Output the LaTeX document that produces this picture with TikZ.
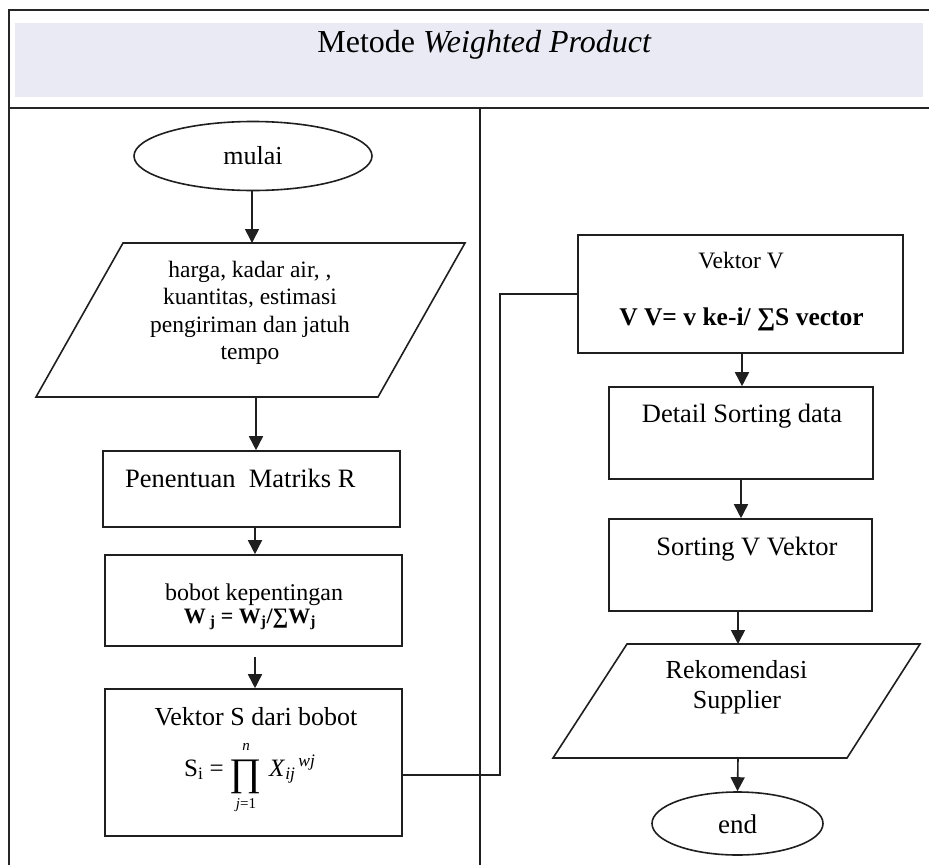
\documentclass[tikz,border=0pt]{standalone}
\usepackage{fontspec}
\setmainfont{Liberation Serif}
\usetikzlibrary{shapes.geometric,arrows.meta}

\newcommand{\fs}[1]{\fontsize{#1}{1.15\dimexpr #1pt\relax}\selectfont}

\begin{document}
\begin{tikzpicture}[x=1pt,y=-1pt,
  ink/.style={draw=black!88,line width=1.6pt},
  frameline/.style={draw=black!85,line width=2.4pt},
  stepbox/.style={ink,rectangle,inner sep=0pt},
  terminal/.style={ink,ellipse,inner sep=0pt},
  txt/.style={inner sep=0pt,anchor=base,text=black},
  arr/.style={draw=black!88,line width=1.6pt,-{Triangle[length=14pt,width=14pt]}},
  conn/.style={draw=black!88,line width=1.6pt}
]
\useasboundingbox (0,0) rectangle (929,865);
\fill[white] (0,0) rectangle (929,865);

% swimlane frame and title band
\fill[fill={rgb,255:red,234;green,234;blue,245}] (15,23) rectangle (923,97);
\draw[frameline] (9,865) -- (9,10) -- (929,10);
\draw[frameline] (9,108) -- (929,108);
\draw[ink] (480,108) -- (480,865);
\node[txt] (title) at (484.5,52) {\fs{32}Metode \textit{Weighted Product}};

% ---------------- left lane ----------------
\node[terminal,minimum width=238pt,minimum height=69pt] (mulai) at (253,156) {};
\node[txt] (mulaitxt) at (253,164) {\fs{26}mulai};

% input parallelogram
\draw[ink] (123,243) -- (465,243) -- (378,397) -- (36,397) -- cycle;
\coordinate (intop) at (252,243);
\coordinate (inbot) at (256,397);
\node[txt] (in1) at (250,277) {\fs{23.5}harga, kadar air, ,};
\node[txt] (in2) at (250,304.5) {\fs{23.5}kuantitas, estimasi};
\node[txt] (in3) at (250,332) {\fs{23.5}pengiriman dan jatuh};
\node[txt] (in4) at (250,359.5) {\fs{23.5}tempo};

\node[stepbox,minimum width=297pt,minimum height=76pt] (matR) at (251.5,489) {};
\node[txt,anchor=base west] (matRtxt) at (125,487) {\fs{26.5}Penentuan\ \ Matriks R};

\node[stepbox,minimum width=297pt,minimum height=91pt] (bobot) at (253.5,600.5) {};
\node[txt] (bobot1) at (254,600) {\fs{24}bobot kepentingan};
\node[txt] (bobot2) at (250,623) {\fs{22}\bfseries W\textsubscript{ j} = W\textsubscript{j}/∑W\textsubscript{j}};

\node[stepbox,minimum width=297pt,minimum height=147pt] (vs) at (253.5,762.5) {};
\node[txt] (vs1) at (256,725) {\fs{26}Vektor S dari bobot};
% product formula S_i = prod_{j=1}^{n} X_ij^wj
\node[txt,anchor=base east] (vsS) at (224,776) {\fs{25}S\textsubscript{i} =};
\node[txt] (vsP) at (246,785) {\fs{39}∏};
\node[txt] (vsN) at (246,750) {\fs{15}\textit{n}};
\node[txt] (vsJ) at (246,808) {\fs{15}\textit{j}=1};
\node[txt,anchor=base west] (vsX) at (269,776) {\fs{25}\textit{X}\textsubscript{\textit{ij}}\textsuperscript{\,\textit{wj}}};

% ---------------- right lane ----------------
\node[stepbox,minimum width=325pt,minimum height=118pt] (vv) at (740.5,294) {};
\node[txt] (vv1) at (741,268) {\fs{23.5}Vektor V};
\node[txt] (vv2) at (741.5,325) {\fs{25.5}\bfseries V V= v ke-i/ ∑S vector};

\node[stepbox,minimum width=264pt,minimum height=92pt] (detail) at (741,433) {};
\node[txt] (detailtxt) at (742,422) {\fs{26.5}Detail Sorting data};

\node[stepbox,minimum width=263pt,minimum height=92pt] (sortv) at (740.5,565) {};
\node[txt] (sortvtxt) at (747,555) {\fs{26.5}Sorting V Vektor};

% output parallelogram
\draw[ink] (627,644) -- (920,644) -- (847,758) -- (553,758) -- cycle;
\coordinate (outtop) at (738,644);
\coordinate (outbot) at (738,758);
\node[txt] (out1) at (736.5,678) {\fs{26}Rekomendasi};
\node[txt] (out2) at (737,708) {\fs{26}Supplier};

\node[terminal,minimum width=171pt,minimum height=63pt] (endn) at (737.5,823.5) {};
\node[txt] (endtxt) at (737.5,833) {\fs{27}end};

% ---------------- connectors ----------------
\draw[arr] (mulai.south -| intop) -- (intop);
\draw[arr] (inbot) -- (inbot |- matR.north);
\draw[arr] (matR.south -| 255,0) -- (bobot.north -| 255,0);
\draw[arr,shorten <=10pt] (bobot.south -| 255,0) -- (vs.north -| 255,0);

\coordinate (bend) at (500,294);
\draw[conn] ([yshift=-12.5pt]vs.east) -| (bend) -- (vv.west);

\draw[arr] (vv.south -| 742,0) -- (detail.north -| 742,0);
\draw[arr] (detail.south -| 741,0) -- (sortv.north -| 741,0);
\draw[arr] (sortv.south -| outtop) -- (outtop);
\draw[arr] (outbot) -- (endn.north);
\end{tikzpicture}
\end{document}
